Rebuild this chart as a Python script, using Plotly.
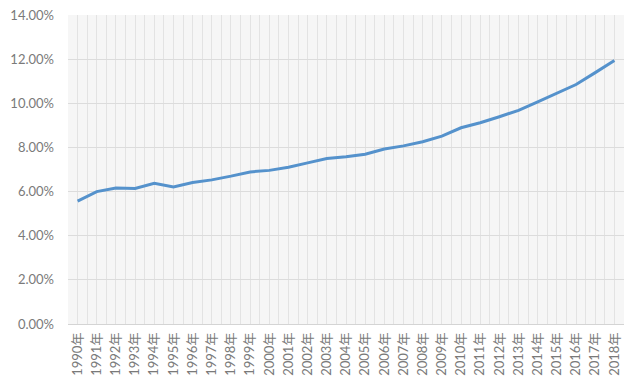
import plotly.graph_objects as go

years = list(range(1990, 2019))
labels = [f"{y}年" for y in years]
values = [5.57, 6.00, 6.16, 6.14, 6.38, 6.21, 6.41, 6.53, 6.70, 6.89, 6.96, 7.10, 7.30, 7.50, 7.58, 7.69, 7.93, 8.07, 8.26, 8.51, 8.89, 9.12, 9.39, 9.68, 10.06, 10.47, 10.85, 11.39, 11.94]
shares = [v / 100 for v in values]

fig = go.Figure()
fig.add_trace(go.Scatter(
    x=years, y=shares, mode="lines",
    line=dict(color="#5592cc", width=3),
    showlegend=False,
))

# page body has an 8px margin, so the figure is sized/offset to compensate
fig.update_layout(
    width=632, height=380,
    margin=dict(l=60, r=16, t=7, b=64),
    paper_bgcolor="white",
    plot_bgcolor="#f6f6f6",
    font=dict(family="Lato, 'Noto Sans CJK SC', sans-serif", color="#7a7a7a"),
)
fig.update_xaxes(
    range=[1989.5, 2018.5],
    tickmode="array", tickvals=years, ticktext=labels,
    tickangle=-90,
    tickfont=dict(size=13, family="Lato, 'Noto Sans CJK SC', sans-serif", color="#7a7a7a"),
    showgrid=True, gridcolor="#e3e3e3", gridwidth=1,
    minor=dict(tickmode="linear", tick0=1989.5, dtick=1, showgrid=True, gridcolor="#e3e3e3", gridwidth=1),
    zeroline=False, showline=False, ticks="",
    ticklabelstandoff=5,
    ticklabeloverflow="allow",
    automargin=False,
)
fig.update_yaxes(
    range=[0, 0.14], dtick=0.02, tick0=0,
    tickformat=".2%",
    tickfont=dict(size=13, family="Lato, sans-serif", color="#7a7a7a"),
    showgrid=True, gridcolor="#dcdcdc", gridwidth=1,
    zeroline=True, zerolinecolor="#d4d4d4", zerolinewidth=1,
    showline=False, ticks="",
    ticklabelstandoff=13,
    ticklabeloverflow="allow",
    automargin=False,
)

fig.write_html("out.html")
